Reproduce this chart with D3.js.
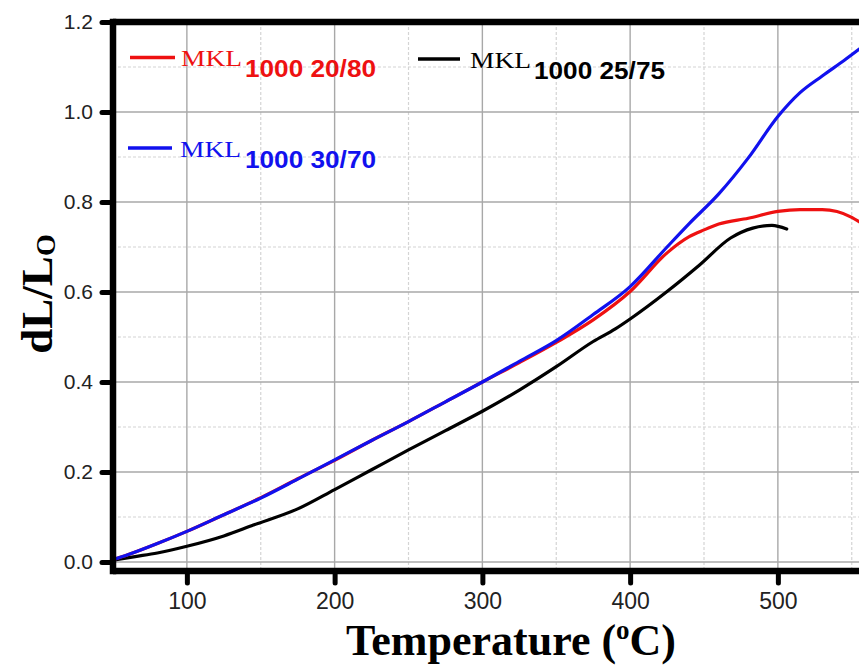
<!DOCTYPE html>
<html>
<head>
<meta charset="utf-8">
<script src="https://cdn.jsdelivr.net/npm/d3@7"></script>
<style>
  html, body { margin: 0; padding: 0; background: #fff; overflow: hidden; }
  svg { display: block; }
</style>
</head>
<body>
<svg id="chart" width="859" height="669"></svg>
<script>
// Dilatometry curves: relative expansion dL/Lo against temperature (°C)
const seriesNames = ["20/80", "25/75", "30/70"];
const seriesLabels = ["1000 20/80", "1000 25/75", "1000 30/70"];
const seriesColors = ["#ee1111", "#000000", "#1111ee"];

const tempRed = [50, 60, 80, 100, 125, 150, 175, 200, 225, 250, 275, 300, 325, 350, 375, 400, 425, 440, 450, 460, 480, 500, 515, 530, 540, 550, 560];
const dlRed   = [0.005, 0.016, 0.041, 0.068, 0.105, 0.143, 0.185, 0.226, 0.270, 0.312, 0.356, 0.400, 0.443, 0.488, 0.538, 0.601, 0.687, 0.723, 0.738, 0.751, 0.764, 0.779, 0.783, 0.783, 0.779, 0.766, 0.745];

const tempBlack = [50, 65, 80, 100, 125, 145, 175, 200, 225, 250, 275, 300, 325, 350, 375, 390, 400, 425, 447, 468, 483, 496, 506];
const dlBlack   = [0.004, 0.012, 0.020, 0.035, 0.058, 0.082, 0.118, 0.161, 0.205, 0.249, 0.292, 0.335, 0.382, 0.434, 0.490, 0.518, 0.540, 0.601, 0.660, 0.720, 0.742, 0.748, 0.740];

const tempBlue = [50, 60, 80, 100, 125, 150, 175, 200, 225, 250, 275, 300, 325, 350, 375, 400, 425, 440, 460, 480, 500, 515, 530, 545, 560];
const dlBlue   = [0.005, 0.016, 0.041, 0.068, 0.105, 0.142, 0.184, 0.227, 0.270, 0.312, 0.356, 0.400, 0.446, 0.492, 0.550, 0.612, 0.700, 0.752, 0.818, 0.898, 0.990, 1.043, 1.080, 1.115, 1.152];

const xTicks = [100, 200, 300, 400, 500];
const xMinor = [150, 250, 350, 450, 550];
const yTicks = [0.0, 0.2, 0.4, 0.6, 0.8, 1.0, 1.2];
const yMinor = [0.1, 0.3, 0.5, 0.7, 0.9, 1.1];

const svg = d3.select("#chart");
const W = 859, H = 669;
const plotLeft = 113, plotTop = 22, plotBottom = 571;

const x = d3.scaleLinear().domain([50, 600]).range([plotLeft, plotLeft + 550 * 1.4775]);
const y = d3.scaleLinear().domain([-0.02, 1.2]).range([plotBottom, plotTop]);

const sans = "'Liberation Sans', Arial, Helvetica, sans-serif";
const serif = "'Liberation Serif', 'Times New Roman', Times, serif";

// grid
const grid = svg.append("g");
grid.selectAll(".vminor").data(xMinor).join("line")
  .attr("x1", d => x(d)).attr("x2", d => x(d))
  .attr("y1", plotTop).attr("y2", plotBottom)
  .attr("stroke", "#d4d4d4").attr("stroke-width", 1.2).attr("stroke-dasharray", "3,2");
grid.selectAll(".hminor").data(yMinor).join("line")
  .attr("x1", plotLeft).attr("x2", W)
  .attr("y1", d => y(d)).attr("y2", d => y(d))
  .attr("stroke", "#d4d4d4").attr("stroke-width", 1.2).attr("stroke-dasharray", "3,2");
grid.selectAll(".vmajor").data(xTicks).join("line")
  .attr("x1", d => x(d)).attr("x2", d => x(d))
  .attr("y1", plotTop).attr("y2", plotBottom)
  .attr("stroke", "#a8a8a8").attr("stroke-width", 1.4);
grid.selectAll(".hmajor").data(yTicks.filter(v => v < 1.2)).join("line")
  .attr("x1", plotLeft).attr("x2", W)
  .attr("y1", d => y(d)).attr("y2", d => y(d))
  .attr("stroke", "#a8a8a8").attr("stroke-width", 1.4);

// curves
svg.append("defs").append("clipPath").attr("id", "plotClip")
  .append("rect").attr("x", plotLeft).attr("y", plotTop).attr("width", W - plotLeft).attr("height", plotBottom - plotTop);

const line = d3.line().x(d => x(d[0])).y(d => y(d[1])).curve(d3.curveMonotoneX);
const curves = [
  { t: tempBlack, v: dlBlack, c: seriesColors[1] },
  { t: tempRed, v: dlRed, c: seriesColors[0] },
  { t: tempBlue, v: dlBlue, c: seriesColors[2] }
];
const cg = svg.append("g").attr("clip-path", "url(#plotClip)");
curves.forEach(s => {
  cg.append("path")
    .datum(s.t.map((t, i) => [t, s.v[i]]))
    .attr("fill", "none")
    .attr("stroke", s.c)
    .attr("stroke-width", 3.2)
    .attr("stroke-linejoin", "round")
    .attr("stroke-linecap", "round")
    .attr("d", line);
});

// axes
const xAxis = svg.append("g").attr("transform", `translate(0,${plotBottom})`)
  .call(d3.axisBottom(x).tickValues(xTicks).tickSize(12).tickPadding(10).tickFormat(d3.format("d")));
const yAxis = svg.append("g").attr("transform", `translate(${plotLeft},0)`)
  .call(d3.axisLeft(y).tickValues(yTicks).tickSize(11).tickPadding(9).tickFormat(d3.format(".1f")));
[xAxis, yAxis].forEach(a => {
  a.select(".domain").remove();
  a.selectAll(".tick line").attr("stroke", "#000").attr("stroke-width", 5).attr("stroke-linecap", "round");
  a.selectAll(".tick text").attr("fill", "#222").attr("font-family", sans);
});
xAxis.selectAll(".tick text").attr("font-size", 23);
yAxis.selectAll(".tick text").attr("font-size", 21);

// frame
const frame = svg.append("g").attr("stroke", "#000").attr("stroke-width", 6.5);
frame.append("line").attr("x1", plotLeft).attr("x2", W).attr("y1", y(1.2)).attr("y2", y(1.2));
frame.append("line").attr("x1", plotLeft).attr("x2", W).attr("y1", plotBottom).attr("y2", plotBottom);
frame.append("line").attr("x1", plotLeft).attr("x2", plotLeft).attr("y1", y(1.2) - 3.2).attr("y2", plotBottom + 3.2);

// axis titles
const xt = svg.append("text")
  .attr("x", 511).attr("y", 655)
  .attr("text-anchor", "middle")
  .attr("font-family", serif).attr("font-weight", "bold").attr("font-size", 44).attr("fill", "#000");
xt.append("tspan").text("Temperature (");
xt.append("tspan").attr("font-size", 27).attr("dy", -16).text("o");
xt.append("tspan").attr("dy", 16).text("C)");

const yt = svg.append("text")
  .attr("transform", "translate(52,294) rotate(-90)")
  .attr("text-anchor", "middle")
  .attr("font-family", serif).attr("font-weight", "bold").attr("font-size", 45).attr("fill", "#000");
yt.append("tspan").text("dL/L");
yt.append("tspan").attr("font-size", 28).attr("dy", 3).text("O");

// legend
const legendItems = [
  { i: 0, lx1: 130, lx2: 175, ly: 57.5, tx: 181, mb: 66, sx: 245, sb: 77 },
  { i: 1, lx1: 418, lx2: 460, ly: 59, tx: 470, mb: 68, sx: 534, sb: 79 },
  { i: 2, lx1: 128, lx2: 172, ly: 148, tx: 180, mb: 157, sx: 245, sb: 168 }
];
const lg = svg.append("g");
legendItems.forEach(p => {
  const col = seriesColors[p.i];
  lg.append("line").attr("x1", p.lx1).attr("x2", p.lx2).attr("y1", p.ly).attr("y2", p.ly)
    .attr("stroke", col).attr("stroke-width", 3.5);
  lg.append("text").attr("x", p.tx).attr("y", p.mb)
    .attr("font-family", serif).attr("font-size", 23).attr("fill", col)
    .attr("textLength", 61).attr("lengthAdjust", "spacingAndGlyphs")
    .text("MKL");
  lg.append("text").attr("x", p.sx).attr("y", p.sb)
    .attr("font-family", sans).attr("font-weight", "bold").attr("font-size", 24).attr("fill", col)
    .attr("textLength", 131).attr("lengthAdjust", "spacingAndGlyphs")
    .text(seriesLabels[p.i]);
});
</script>
</body>
</html>
